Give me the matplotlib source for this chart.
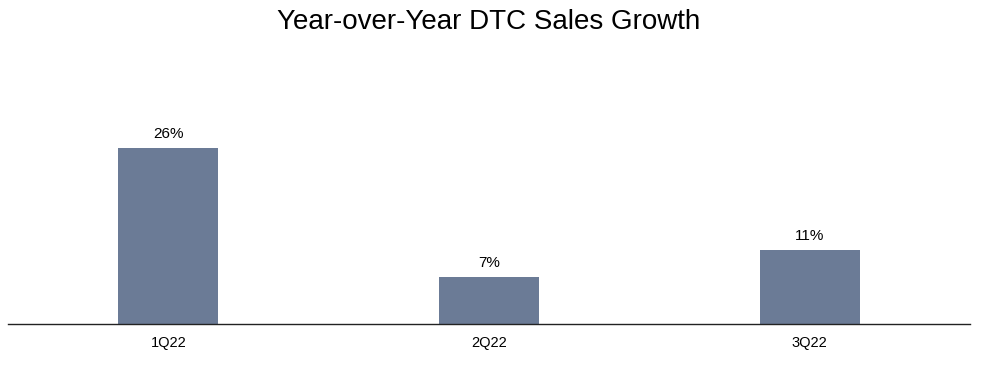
import matplotlib
matplotlib.use("Agg")
import matplotlib.pyplot as plt

categories = ["1Q22", "2Q22", "3Q22"]
growth = [26, 7, 11]
labels = ["26%", "7%", "11%"]

plt.rcParams['font.family'] = ['Liberation Sans', 'DejaVu Sans']

fig = plt.figure(figsize=(9.82, 3.71), dpi=100)
ax = fig.add_axes([8/982, 47/371, 962/982, 203/371])
x = list(range(len(categories)))
bars = ax.bar(x, growth, width=0.312, color="#6b7b96", zorder=2)
for b, lab in zip(bars, labels):
    ax.text(b.get_x() + b.get_width()/2, b.get_height() + 1.0, lab,
            ha="center", va="bottom", fontsize=11, color="#000000")
ax.set_xlim(-0.5, 2.5)
ax.set_ylim(0, 30)
ax.set_xticks(x)
ax.set_xticklabels(categories, fontsize=10.5)
ax.tick_params(axis="x", length=0, pad=9)
ax.set_yticks([])
for s in ["top", "right", "left"]:
    ax.spines[s].set_visible(False)
ax.spines["bottom"].set_color("#222222")
ax.spines["bottom"].set_linewidth(1.0)
fig.text(489/982, 1 - 22/371, "Year-over-Year DTC Sales Growth", ha="center", va="center", fontsize=20)
fig.savefig("out.png", dpi=100)
